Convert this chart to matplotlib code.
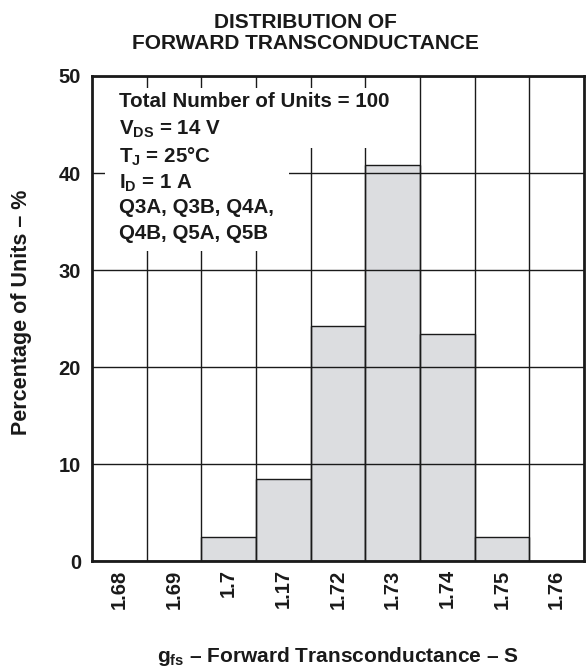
import matplotlib
matplotlib.use("Agg")
import matplotlib.pyplot as plt
from matplotlib.patches import Rectangle

categories = ["1.68", "1.69", "1.7", "1.17", "1.72", "1.73", "1.74", "1.75", "1.76"]
percent = [0, 0, 2.5, 8.5, 24.2, 40.8, 23.4, 2.5, 0]
yticks = [0, 10, 20, 30, 40, 50]

plt.rcParams['font.family'] = ['Liberation Sans', 'DejaVu Sans']
plt.rcParams['font.weight'] = 'bold'
plt.rcParams['mathtext.fontset'] = 'custom'
plt.rcParams['mathtext.rm'] = 'Liberation Sans:bold'
plt.rcParams['mathtext.it'] = 'Liberation Sans:bold'
plt.rcParams['mathtext.bf'] = 'Liberation Sans:bold'

INK = '#1a1a1a'
fig = plt.figure(figsize=(5.88, 6.69), dpi=100)
ax = fig.add_axes([0.1565, 0.1614, 0.8367, 0.725])

x = list(range(len(categories)))
ax.bar(x, percent, width=1.0, color='#dcdde0', edgecolor=INK, linewidth=1.0, zorder=1)

ax.set_xlim(-0.5, len(categories) - 0.5)
ax.set_ylim(0, 50)
ax.set_xticks(x)
ax.set_xticklabels(categories, rotation=90, fontsize=14.5, fontweight='bold', color=INK)
ax.set_xticks([i + 0.5 for i in x[:-1]], minor=True)
ax.set_yticks(yticks)
ax.set_yticklabels([str(v) for v in yticks], fontsize=14.5, fontweight='bold', color=INK)
ax.tick_params(axis='both', which='both', length=0)
ax.tick_params(axis='x', pad=6)
ax.tick_params(axis='y', pad=8)
ax.grid(True, which='minor', axis='x', color=INK, linewidth=1.0, zorder=2)
ax.grid(True, which='major', axis='y', color=INK, linewidth=1.0, zorder=2)
ax.set_axisbelow(False)
for s in ax.spines.values():
    s.set_linewidth(2.0)
    s.set_color(INK)
    s.set_zorder(5)

# white background behind the annotation block
tr = ax.transAxes
ax.add_patch(Rectangle((0.026, 0.639), 0.374, 0.336, transform=tr, facecolor='white',
                       edgecolor='none', zorder=3))
ax.add_patch(Rectangle((0.026, 0.852), 0.61, 0.123, transform=tr, facecolor='white',
                       edgecolor='none', zorder=3))

lines = [
    ("Total Number of Units = 100", 0.947),
    ("V$_{\\mathrm{DS}}$ = 14 V", 0.891),
    ("T$_{\\mathrm{J}}$ = 25°C", 0.834),
    ("I$_{\\mathrm{D}}$ = 1 A", 0.779),
    ("Q3A, Q3B, Q4A,", 0.728),
    ("Q4B, Q5A, Q5B", 0.676),
]
for txt, yy in lines:
    ax.text(0.055, yy, txt, transform=tr, fontsize=14.8, fontweight='bold',
            va='center', ha='left', color=INK, zorder=4)

ax.set_ylabel("Percentage of Units – %", fontsize=15.5, fontweight='bold', color=INK,
              va='center')
ax.yaxis.set_label_coords(-0.144, 0.513)
ax.set_xlabel("g$_{\\mathrm{fs}}$ – Forward Transconductance – S", fontsize=15,
              fontweight='bold', color=INK, va='center')
ax.xaxis.set_label_coords(0.5, -0.196)

fig.text(0.519, 0.951, "DISTRIBUTION OF\nFORWARD TRANSCONDUCTANCE", fontsize=15,
         fontweight='bold', color=INK, ha='center', va='center', linespacing=1.15)

fig.savefig("out.png", dpi=100)
